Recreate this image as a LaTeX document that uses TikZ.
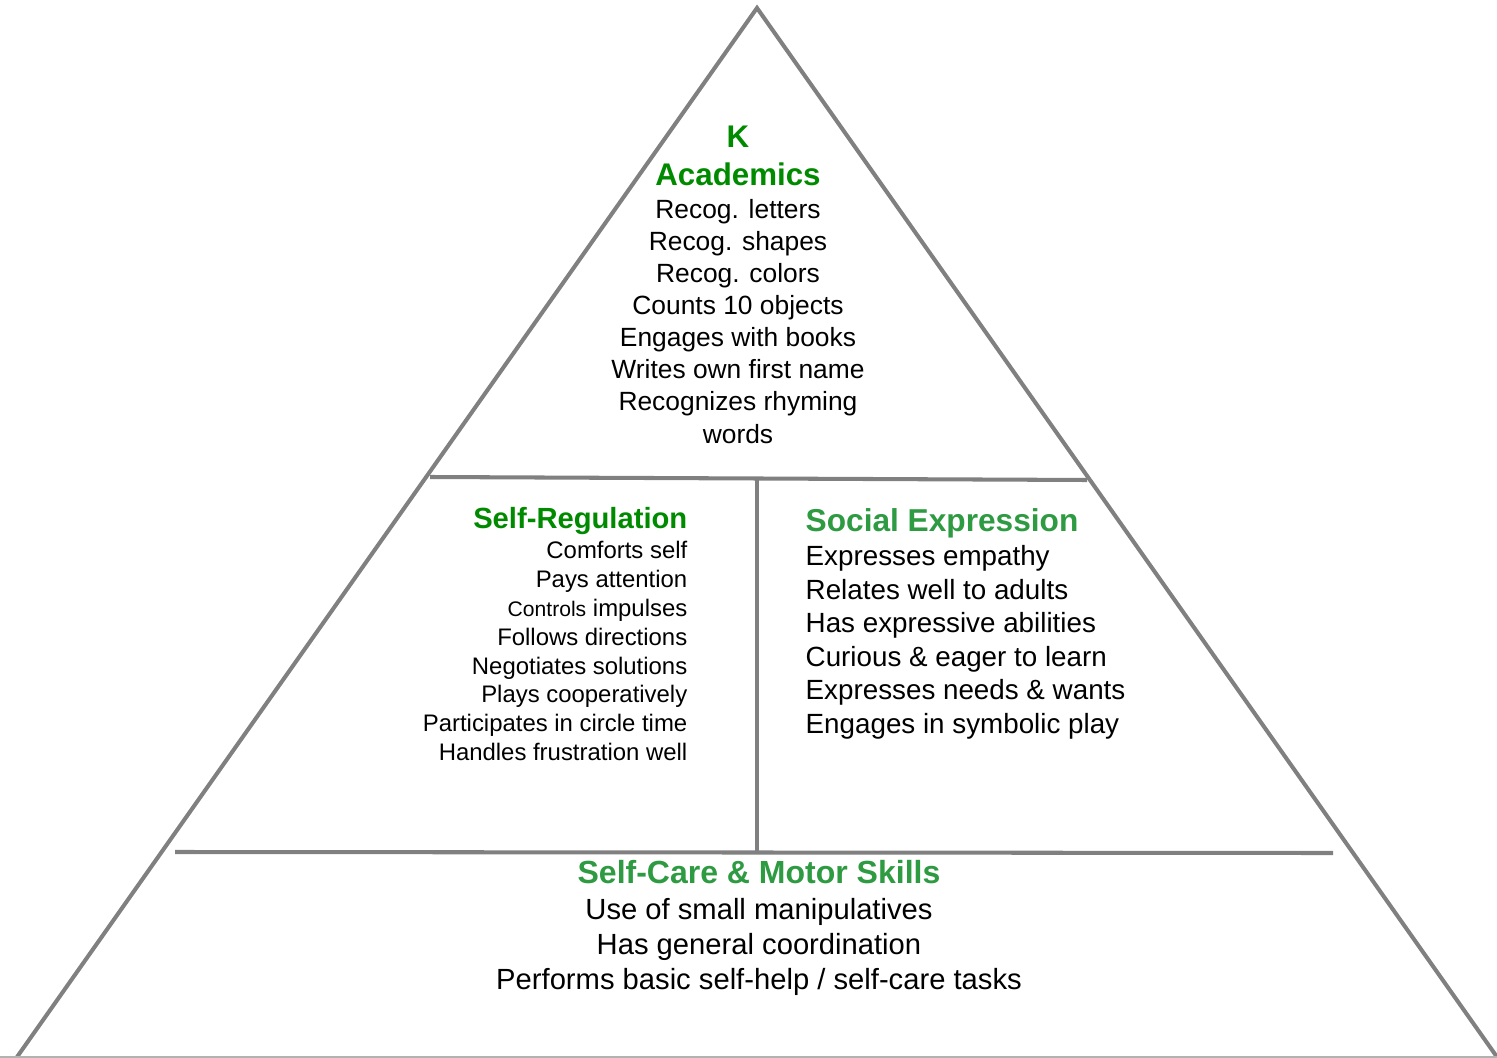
\documentclass[tikz,border=0pt]{standalone}
\usepackage{fontspec}
\setmainfont{Liberation Sans}
\definecolor{headgreen}{HTML}{008A00}
\definecolor{softgreen}{HTML}{2E9A42}
\begin{document}
\begin{tikzpicture}[x=0.01cm,y=-0.01cm,
		frame/.style={draw=gray, line width=1.15pt},
		title/.style={inner sep=0pt, anchor=mid, font=\bfseries\fontsize{8.9}{10}\selectfont, text=headgreen},
		item/.style={inner sep=0pt, anchor=mid}]
		\useasboundingbox (0,0) rectangle (1497,1058);
		% Dreieck
		\draw[frame] (17,1057) -- (757,8) -- (1497,1057);
		\draw[draw=gray!60, line width=0.6pt] (0,1057) -- (1497,1057);
		% Unterteilung
		\draw[frame] (430,477) -- (1087,480);
		\draw[frame] (757,480) -- (757,852);
		\draw[frame] (175,852) -- (1333,853);
		% Spitze : K Academics
		\node[title] (k) at (738,138) {K};
		\node[title] (acad) at (738,176) {Academics};
		\foreach \t [count=\i] in {Recog. letters,Recog. shapes,Recog. colors,Counts 10 objects,Engages with books,Writes own first name,Recognizes rhyming,words}
		\node[item, font=\fontsize{7.5}{9}\selectfont] (acad\i) at (738,177+32.1*\i) {\t};
		% links : Self-Regulation
		\node[title, anchor=mid east, font=\bfseries\fontsize{8.3}{10}\selectfont] (selfreg) at (688,519) {Self-Regulation};
		\foreach \t [count=\i] in {Comforts self,Pays attention,{\fontsize{6}{7}\selectfont Controls} impulses,Follows directions,Negotiates solutions,Plays cooperatively,Participates in circle time,Handles frustration well}
		\node[item, anchor=mid east, font=\fontsize{6.8}{8}\selectfont] (selfreg\i) at (688,520.5+28.85*\i) {\t};
		% rechts : Social Expression
		\node[title, anchor=mid west, text=softgreen, font=\bfseries\fontsize{9}{10}\selectfont] (social) at (805,522) {Social Expression};
		\foreach \t [count=\i] in {Expresses empathy,Relates well to adults,Has expressive abilities,Curious \& eager to learn,Expresses needs \& wants,Engages in symbolic play}
		\node[item, anchor=mid west, font=\fontsize{7.9}{9}\selectfont] (social\i) at (805,523+33.5*\i) {\t};
		% Basis : Self-Care
		\node[title, text=softgreen, font=\bfseries\fontsize{9.1}{10}\selectfont] (selfcare) at (759,874) {Self-Care \& Motor Skills};
		\foreach \t [count=\i] in {Use of small manipulatives,Has general coordination,Performs basic self-help / self-care tasks}
		\node[item, font=\fontsize{8.3}{10}\selectfont] (selfcare\i) at (759,875+35*\i) {\t};
	\end{tikzpicture}
\end{document}
